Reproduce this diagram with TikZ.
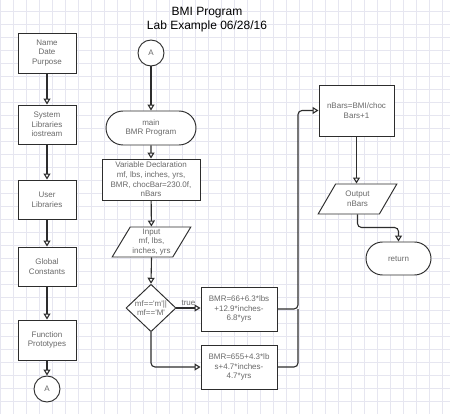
\documentclass[tikz,border=0pt]{standalone}
\usepackage{fontspec}
\setmainfont{Liberation Sans}
\usetikzlibrary{shapes.geometric,shapes.misc,arrows.meta}
\definecolor{ln}{RGB}{45,45,45}
\definecolor{tx}{RGB}{105,105,105}
\definecolor{gridc}{RGB}{230,230,240}
\tikzset{
  base/.style={draw=ln, line width=0.95pt, fill=white, text=tx, font=\fontsize{8}{9.6}\selectfont, align=center, inner sep=1pt},
  box/.style={base, rectangle, minimum width=58pt, minimum height=39pt},
  term/.style={base, rounded rectangle},
  io/.style={base, trapezium, trapezium left angle=59, trapezium right angle=121, trapezium stretches=true},
  dec/.style={base, diamond, inner sep=0pt},
  conn/.style={base, circle, minimum size=26pt},
  arr/.style={draw=ln, line width=1.1pt, rounded corners=4pt, -{Triangle[open,width=7pt,length=6pt]}},
  plain/.style={draw=ln, line width=1.1pt, rounded corners=4pt}
}
\begin{document}
\begin{tikzpicture}[x=1pt,y=-1pt]
\useasboundingbox (0,0) rectangle (450,414);
\fill[white] (0,0) rectangle (450,414);
\foreach \i in {0,...,34} \draw[gridc, line width=0.6pt] (13*\i,0) -- (13*\i,414);
\foreach \j in {0,...,31} \draw[gridc, line width=0.6pt] (0,13*\j-1.3) -- (450,13*\j-1.3);

\node[font=\fontsize{12}{14}\selectfont, align=center, text=black] (title) at (207,20) {BMI Program\\Lab Example 06/28/16};

% left column
\node[box, minimum height=40pt] (name) at (47,53) {Name\\Date\\Purpose};
\node[box] (sys) at (47,124.5) {System\\Libraries\\iostream};
\node[box] (usr) at (47,199.5) {User\\Libraries};
\node[box] (glob) at (47,266.5) {Global\\Constants};
\node[box, minimum height=40pt] (func) at (47,340) {Function\\Prototypes};
\node[conn] (a2) at (47,389) {A};

% middle column
\node[conn] (a1) at (151,53) {A};
\node[term, minimum width=92pt, minimum height=34pt] (main) at (151,128) {main\\BMR Program};
\node[box, minimum width=98pt, minimum height=41pt] (var) at (151,179.5) {Variable Declaration\\mf, lbs, inches, yrs,\\BMR, chocBar=230.0f,\\nBars};
\node[io, minimum width=79pt, minimum height=30pt] (inp) at (151.5,242) {Input\\mf, lbs,\\inches, yrs};
\node[dec, minimum width=50pt, minimum height=46pt] (cond) at (151,308) {mf==\textquotesingle m\textquotesingle ||\\mf==\textquotesingle M\textquotesingle};
\node[box, minimum width=76pt, minimum height=44pt] (b1) at (239,309) {BMR=66+6.3*lbs\\+12.9*inches-\\6.8*yrs};
\node[box, minimum width=76pt, minimum height=44pt] (b2) at (239,367) {BMR=655+4.3*lb\\s+4.7*inches-\\4.7*yrs};

% right column
\node[box, minimum width=75pt, minimum height=51pt] (nb) at (356.5,110.5) {nBars=BMI/choc\\Bars+1};
\node[io, minimum width=79pt, minimum height=30pt] (out) at (357.5,199) {Output\\nBars};
\node[term, minimum width=67pt, minimum height=33pt] (ret) at (398.5,258.5) {return};
\coordinate (vx) at (298,0);

% connectors
\draw[arr] (name) -- (sys);
\draw[arr] (sys) -- (usr);
\draw[arr] (usr) -- (glob);
\draw[arr] (glob) -- (func);
\draw[arr] (func) -- (a2);
\draw[arr] (a1) -- (main);
\draw[arr] (main) -- (var);
\draw[arr] (var) -- (inp);
\draw[arr] (inp.south) -- (cond.north);
\draw[arr] (cond.east) -- (cond.east -| b1.west) node[midway, above, text=tx, font=\fontsize{8}{9.6}\selectfont, inner sep=1.5pt] (tl) {true};
\draw[arr] (cond.south) |- (b2.west);
\draw[arr] (b1.east) -- (b1.east -| vx) |- (nb.west);
\draw[plain] (b2.east) -- (b2.east -| vx) -- (b1.east -| vx);
\draw[arr] (nb.south) -- (nb.south |- out.north);
\draw[arr] (out.south) -- ++(0,13) -| (ret.north);
\end{tikzpicture}
\end{document}
